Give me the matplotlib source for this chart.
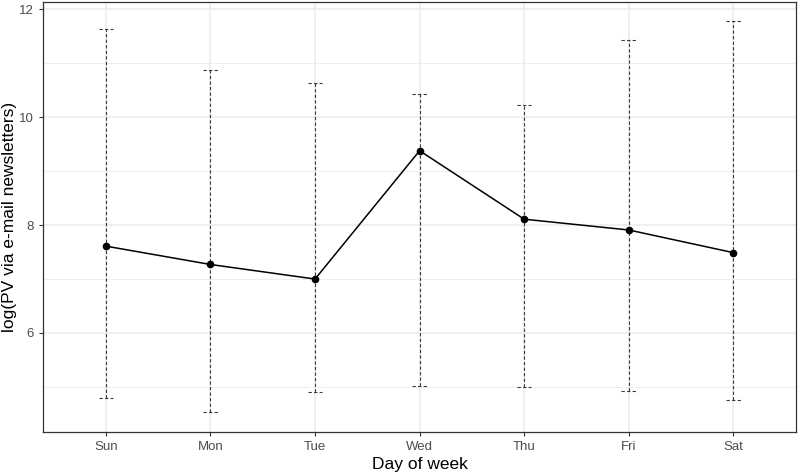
import matplotlib
matplotlib.use("Agg")
import matplotlib.pyplot as plt

days = ["Sun", "Mon", "Tue", "Wed", "Thu", "Fri", "Sat"]
mean_vals = [7.61, 7.27, 7.00, 9.38, 8.11, 7.91, 7.49]
upper_vals = [11.63, 10.87, 10.64, 10.44, 10.23, 11.44, 11.78]
lower_vals = [4.80, 4.54, 4.91, 5.02, 4.99, 4.93, 4.75]
y_ticks = [6, 8, 10, 12]
y_minor = [5, 7, 9, 11]

plt.rcParams['font.family'] = ['Liberation Sans', 'DejaVu Sans']

fig = plt.figure(figsize=(8, 4.75), dpi=100)
ax = fig.add_axes([0.054, 0.0905, 0.941, 0.9055])

x = list(range(1, len(days) + 1))

# grid
for v in y_minor:
    ax.axhline(v, color="#EBEBEB", lw=0.6, zorder=0)
for v in y_ticks:
    ax.axhline(v, color="#EBEBEB", lw=1.1, zorder=0)
for xi in x:
    ax.axvline(xi, color="#EBEBEB", lw=1.1, zorder=0)

# error bars (dashed)
cap = 0.07
ax.vlines(x, lower_vals, upper_vals, colors="#3A3A3A", linestyles=(0, (3, 2)), lw=0.8, zorder=2)
ax.hlines(upper_vals, [xi - cap for xi in x], [xi + cap for xi in x], colors="#3A3A3A",
          linestyles=(0, (3, 2)), lw=0.8, zorder=2)
ax.hlines(lower_vals, [xi - cap for xi in x], [xi + cap for xi in x], colors="#3A3A3A",
          linestyles=(0, (3, 2)), lw=0.8, zorder=2)

ax.plot(x, mean_vals, color="black", lw=1.1, zorder=3)
ax.plot(x, mean_vals, "o", color="black", ms=4.5, zorder=4)

ax.set_xlim(0.4, 7.6)
ax.set_ylim(4.163, 12.14)
ax.set_xticks(x)
ax.set_xticklabels(days)
ax.set_yticks(y_ticks)
ax.set_yticklabels([str(t) for t in y_ticks])

ax.tick_params(axis="both", colors="#333333", labelcolor="#4D4D4D", labelsize=9.5, length=3, width=0.8)
for s in ax.spines.values():
    s.set_color("#333333")
    s.set_linewidth(0.9)

ax.set_xlabel("Day of week", fontsize=12.5, color="black", labelpad=3)
ax.set_ylabel("log(PV via e-mail newsletters)", fontsize=12.5, color="black", labelpad=2)

fig.savefig("out.png", dpi=100)
